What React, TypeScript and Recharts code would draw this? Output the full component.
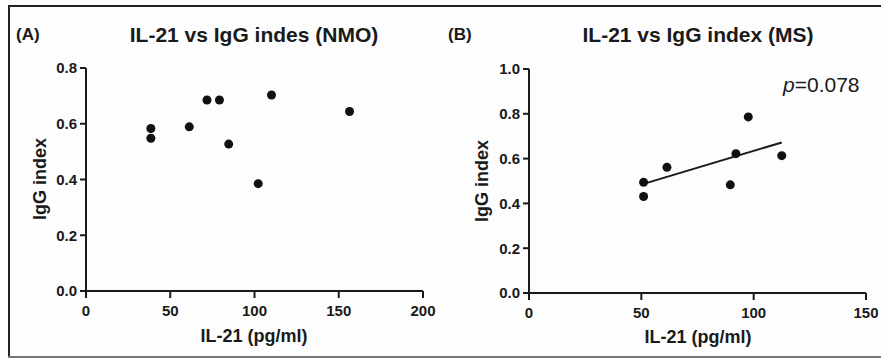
import React from 'react';
import { ScatterChart, Scatter, XAxis, YAxis, ReferenceLine } from 'recharts';

// Panel A: NMO
const nmoIl21 = [38.5, 38.5, 61.3, 71.8, 79.2, 84.7, 102.2, 110.1, 156.4];
const nmoIgg = [0.583, 0.548, 0.589, 0.685, 0.685, 0.527, 0.385, 0.703, 0.644];
const nmoXTicks = [0, 50, 100, 150, 200];
const nmoYTicks = [0, 0.2, 0.4, 0.6, 0.8];

// Panel B: MS
const msIl21 = [51, 51, 61.4, 89.6, 92.1, 97.6, 112.5];
const msIgg = [0.494, 0.431, 0.561, 0.483, 0.622, 0.786, 0.613];
const msXTicks = [0, 50, 100, 150];
const msYTicks = [0, 0.2, 0.4, 0.6, 0.8, 1.0];
// fitted line ends
const fitX = [51, 112.5];
const fitY = [0.487, 0.672];

const nmoData = nmoIl21.map((x, i) => ({ x, y: nmoIgg[i] }));
const msData = msIl21.map((x, i) => ({ x, y: msIgg[i] }));

const FONT = '"Liberation Sans", Arial, Helvetica, sans-serif';
const INK = '#1a1a1a';
const tickStyle = { fill: INK, fontSize: 15, fontWeight: 'bold', fontFamily: FONT };
const fmt = (v: number) => v.toFixed(1);

const txt = (extra: React.CSSProperties): React.CSSProperties => ({
  position: 'absolute',
  fontFamily: FONT,
  color: INK,
  whiteSpace: 'nowrap',
  lineHeight: 1,
  ...extra,
});

export default function App() {
  return (
    <div style={{ position: 'absolute', left: 0, top: 0, width: 881, height: 358, background: '#fdfdfd', fontFamily: FONT, overflow: 'hidden' }}>
      {/* frame */}
      <div style={{ position: 'absolute', left: 9, top: 5, width: 872, height: 2, background: '#222' }} />
      <div style={{ position: 'absolute', left: 8, top: 5, width: 2, height: 353, background: '#222' }} />
      <div style={{ position: 'absolute', left: 8, top: 356, width: 873, height: 2, background: '#777' }} />

      <div style={{ position: 'absolute', left: 0, top: 0 }}>
        <ScatterChart width={440} height={358} margin={{ top: 68, right: 17, bottom: 37, left: 46 }}>
          <XAxis
            type="number" dataKey="x" domain={[0, 200]} ticks={nmoXTicks} height={30}
            stroke={INK} strokeWidth={2} tickSize={7} tickMargin={7} tick={tickStyle}
            axisLine={{ stroke: INK, strokeWidth: 2 }} tickLine={{ stroke: INK, strokeWidth: 2 }}
          />
          <YAxis
            type="number" dataKey="y" domain={[0, 0.8]} ticks={nmoYTicks} width={40} tickFormatter={fmt}
            stroke={INK} strokeWidth={2} tickSize={6} tickMargin={3} tick={tickStyle}
            axisLine={{ stroke: INK, strokeWidth: 2 }} tickLine={{ stroke: INK, strokeWidth: 2 }}
          />
          <Scatter data={nmoData} fill="#111" isAnimationActive={false} shape={(p: any) => <circle cx={p.cx} cy={p.cy} r={4.5} fill="#111" />} />
        </ScatterChart>
      </div>

      <div style={{ position: 'absolute', left: 440, top: 0 }}>
        <ScatterChart width={441} height={358} margin={{ top: 69, right: 15, bottom: 35, left: 49 }}>
          <XAxis
            type="number" dataKey="x" domain={[0, 150]} ticks={msXTicks} height={30}
            stroke={INK} strokeWidth={2} tickSize={7} tickMargin={7} tick={tickStyle}
            axisLine={{ stroke: INK, strokeWidth: 2 }} tickLine={{ stroke: INK, strokeWidth: 2 }}
          />
          <YAxis
            type="number" dataKey="y" domain={[0, 1]} ticks={msYTicks} width={40} tickFormatter={fmt}
            stroke={INK} strokeWidth={2} tickSize={6} tickMargin={3} tick={tickStyle}
            axisLine={{ stroke: INK, strokeWidth: 2 }} tickLine={{ stroke: INK, strokeWidth: 2 }}
          />
          <ReferenceLine
            segment={[{ x: fitX[0], y: fitY[0] }, { x: fitX[1], y: fitY[1] }]}
            stroke={INK} strokeWidth={2} ifOverflow="visible"
          />
          <Scatter data={msData} fill="#111" isAnimationActive={false} shape={(p: any) => <circle cx={p.cx} cy={p.cy} r={4.5} fill="#111" />} />
        </ScatterChart>
      </div>

      {/* panel letters and titles */}
      <div style={txt({ left: 16, top: 26, fontSize: 17, fontWeight: 'bold' })}>(A)</div>
      <div style={txt({ left: 254, top: 24, fontSize: 21, fontWeight: 'bold', transform: 'translateX(-50%)' })}>IL-21 vs IgG indes (NMO)</div>
      <div style={txt({ left: 448, top: 26, fontSize: 17, fontWeight: 'bold' })}>(B)</div>
      <div style={txt({ left: 698, top: 24, fontSize: 21, fontWeight: 'bold', transform: 'translateX(-50%)' })}>IL-21 vs IgG index (MS)</div>

      {/* axis titles */}
      <div style={txt({ left: 40, top: 179, fontSize: 18, fontWeight: 'bold', transform: 'translate(-50%, -50%) rotate(-90deg)' })}>IgG index</div>
      <div style={txt({ left: 254, top: 336, fontSize: 18, fontWeight: 'bold', transform: 'translate(-50%, -50%)' })}>IL-21 (pg/ml)</div>
      <div style={txt({ left: 482, top: 181, fontSize: 18, fontWeight: 'bold', transform: 'translate(-50%, -50%) rotate(-90deg)' })}>IgG index</div>
      <div style={txt({ left: 698, top: 337, fontSize: 18, fontWeight: 'bold', transform: 'translate(-50%, -50%)' })}>IL-21 (pg/ml)</div>

      {/* p value */}
      <div style={txt({ left: 783, top: 74, fontSize: 21 })}><i>p</i>=0.078</div>
    </div>
  );
}
